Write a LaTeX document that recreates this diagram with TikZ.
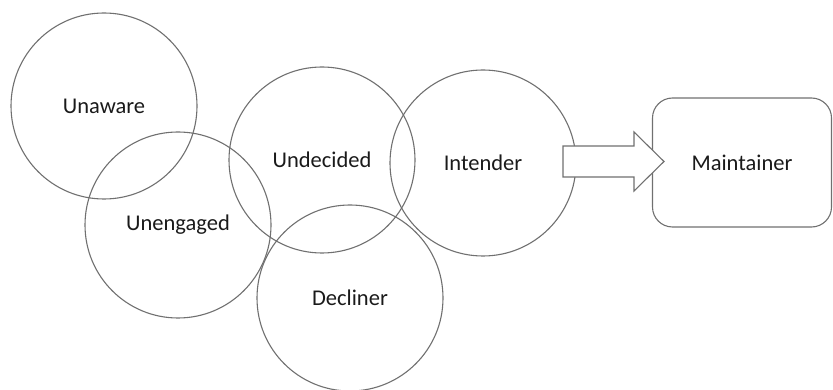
\documentclass[tikz,border=0pt]{standalone}
\usepackage{fontspec}
\setmainfont{Carlito}
\begin{document}
\begin{tikzpicture}[x=1pt,y=-1pt,
  stage/.style={circle, draw=linegray, line width=1.1pt, minimum size=186pt, inner sep=0pt,
    text=textdark, font=\fontsize{22.5}{27}\selectfont},
  endbox/.style={rectangle, draw=linegray, line width=1.1pt, rounded corners=20pt,
    minimum width=179pt, minimum height=129pt, inner sep=0pt,
    text=textdark, font=\fontsize{22.5}{27}\selectfont},
  blockarrow/.style={draw=linegray, line width=1.1pt, fill=white, line join=miter}]
\definecolor{linegray}{HTML}{707070}
\definecolor{textdark}{HTML}{1A1A1A}
\useasboundingbox (0,0) rectangle (833,390);
\node[stage] (unaware) at (104,106) {Unaware};
\node[stage] (unengaged) at (178,225) {Unengaged};
\node[stage] (undecided) at (322,160) {Undecided};
\node[stage] (intender) at (483,163) {Intender};
\node[stage] (decliner) at (350,298) {Decliner};
\node[endbox] (maintainer) at (742,162.5) {Maintainer};
\coordinate (tip) at (664,161.5);
\draw[blockarrow] (563,146) -- (634,146) -- (634,132) -- (tip) -- (634,191) -- (634,177) -- (563,177) -- cycle;
\end{tikzpicture}
\end{document}
